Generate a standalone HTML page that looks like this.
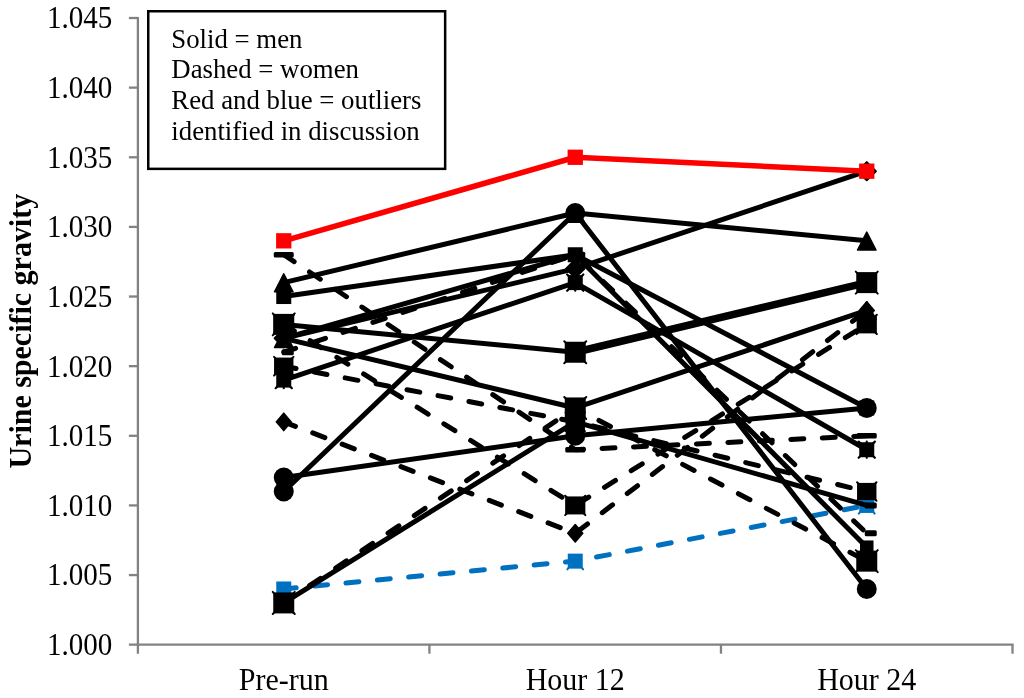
<!DOCTYPE html>
<html lang="en">
<head>
<meta charset="utf-8">
<title>Urine specific gravity</title>
<style>
html,body{margin:0;padding:0;background:#fff;}
body{width:1024px;height:698px;overflow:hidden;}
svg{display:block;}
text{font-family:"Liberation Serif","Times New Roman",serif;fill:#000;}
.ax{font-size:29.07px;}
.xl{font-size:30px;}
.lg{font-size:26.8px;}
.yt{font-size:30px;font-weight:bold;}
</style>
</head>
<body>
<svg width="1024" height="698" viewBox="0 0 1024 698">
<rect x="0" y="0" width="1024" height="698" fill="#fff"/>
<g id="axes">
<path d="M137.9 17.0V653.7" stroke="#828282" stroke-width="2.3" fill="none"/>
<path d="M128.9 644.7H1013.6" stroke="#828282" stroke-width="2.3" fill="none"/>
<path d="M128.9 575.07H137.9" stroke="#828282" stroke-width="2.3" fill="none"/>
<path d="M128.9 505.43H137.9" stroke="#828282" stroke-width="2.3" fill="none"/>
<path d="M128.9 435.80H137.9" stroke="#828282" stroke-width="2.3" fill="none"/>
<path d="M128.9 366.17H137.9" stroke="#828282" stroke-width="2.3" fill="none"/>
<path d="M128.9 296.53H137.9" stroke="#828282" stroke-width="2.3" fill="none"/>
<path d="M128.9 226.90H137.9" stroke="#828282" stroke-width="2.3" fill="none"/>
<path d="M128.9 157.27H137.9" stroke="#828282" stroke-width="2.3" fill="none"/>
<path d="M128.9 87.63H137.9" stroke="#828282" stroke-width="2.3" fill="none"/>
<path d="M128.9 18.00H137.9" stroke="#828282" stroke-width="2.3" fill="none"/>
<path d="M429.43 644.7V653.7" stroke="#828282" stroke-width="2.3" fill="none"/>
<path d="M720.97 644.7V653.7" stroke="#828282" stroke-width="2.3" fill="none"/>
<path d="M1012.50 644.7V653.7" stroke="#828282" stroke-width="2.3" fill="none"/>
</g>
<g id="series">
<path d="M283.75 588.99L575.25 561.14L866.75 505.43" fill="none" stroke="#0070C0" stroke-width="5.0" stroke-linejoin="round" stroke-dasharray="13.0 18.5" stroke-dashoffset="0.5" stroke-linecap="round"/>
<rect x="276.25" y="581.49" width="15" height="15" fill="#0070C0"/><path d="M277.05 595.69L275.85 597.19M290.45 595.69L291.65 597.19" stroke="#0070C0" stroke-width="2" stroke-linecap="round"/>
<rect x="567.75" y="553.64" width="15" height="15" fill="#0070C0"/><path d="M568.55 567.84L567.35 569.34M581.95 567.84L583.15 569.34" stroke="#0070C0" stroke-width="2" stroke-linecap="round"/>
<rect x="859.25" y="497.93" width="15" height="15" fill="#0070C0"/><path d="M860.05 512.13L858.85 513.63M873.45 512.13L874.65 513.63" stroke="#0070C0" stroke-width="2" stroke-linecap="round"/>
<path d="M283.75 421.87L575.25 533.29L866.75 310.46" fill="none" stroke="#000" stroke-width="5.0" stroke-linejoin="round" stroke-dasharray="13.0 18.5" stroke-dashoffset="0.5" stroke-linecap="round"/>
<path d="M283.75 413.12L291.25 421.87L283.75 430.62L276.25 421.87Z" fill="#000" stroke="#000" stroke-width="1.5" stroke-linejoin="round"/>
<path d="M575.25 524.54L582.75 533.29L575.25 542.04L567.75 533.29Z" fill="#000" stroke="#000" stroke-width="1.5" stroke-linejoin="round"/>
<path d="M866.75 301.71L874.25 310.46L866.75 319.21L859.25 310.46Z" fill="#000" stroke="#000" stroke-width="1.5" stroke-linejoin="round"/>
<path d="M283.75 324.39L575.25 505.43L866.75 324.39" fill="none" stroke="#000" stroke-width="5.0" stroke-linejoin="round" stroke-dasharray="13.0 18.5" stroke-dashoffset="0.5" stroke-linecap="round"/>
<rect x="273.65" y="315.39" width="20.20" height="18.00" fill="#000"/><path d="M273.65 314.69L293.85 334.09M273.65 334.09L293.85 314.69" stroke="#000" stroke-width="2" stroke-linecap="round"/>
<rect x="565.15" y="496.43" width="20.20" height="18.00" fill="#000"/><path d="M565.15 495.73L585.35 515.13M565.15 515.13L585.35 495.73" stroke="#000" stroke-width="2" stroke-linecap="round"/>
<rect x="856.65" y="315.39" width="20.20" height="18.00" fill="#000"/><path d="M856.65 314.69L876.85 334.09M856.65 334.09L876.85 314.69" stroke="#000" stroke-width="2" stroke-linecap="round"/>
<path d="M283.75 282.61L575.25 212.97L866.75 240.83" fill="none" stroke="#000" stroke-width="5.0" stroke-linejoin="round"/>
<path d="M283.75 273.86L293.00 291.86L274.50 291.86Z" fill="#000" stroke="#000" stroke-width="1.5" stroke-linejoin="round"/>
<path d="M575.25 204.22L584.50 222.22L566.00 222.22Z" fill="#000" stroke="#000" stroke-width="1.5" stroke-linejoin="round"/>
<path d="M866.75 232.08L876.00 250.08L857.50 250.08Z" fill="#000" stroke="#000" stroke-width="1.5" stroke-linejoin="round"/>
<path d="M283.75 296.53L575.25 254.75L866.75 407.95" fill="none" stroke="#000" stroke-width="5.0" stroke-linejoin="round"/>
<rect x="276.25" y="289.03" width="15" height="15" fill="#000"/>
<rect x="567.75" y="247.25" width="15" height="15" fill="#000"/>
<rect x="859.25" y="400.45" width="15" height="15" fill="#000"/>
<path d="M283.75 338.31L575.25 254.75L866.75 547.21" fill="none" stroke="#000" stroke-width="5.0" stroke-linejoin="round"/>
<rect x="277.00" y="331.56" width="13.5" height="13.5" fill="#000"/>
<rect x="568.50" y="248.00" width="13.5" height="13.5" fill="#000"/>
<rect x="860.00" y="540.46" width="13.5" height="13.5" fill="#000"/>
<path d="M283.75 380.09L575.25 282.61L866.75 449.73" fill="none" stroke="#000" stroke-width="5.0" stroke-linejoin="round"/>
<rect x="276.25" y="372.59" width="15" height="15" fill="#000"/><path d="M275.65 371.99L291.85 388.19M275.65 388.19L291.85 371.99M283.75 371.99L283.75 388.19" stroke="#000" stroke-width="2.2" stroke-linecap="round"/>
<rect x="567.75" y="275.11" width="15" height="15" fill="#000"/><path d="M567.15 274.51L583.35 290.71M567.15 290.71L583.35 274.51M575.25 274.51L575.25 290.71" stroke="#000" stroke-width="2.2" stroke-linecap="round"/>
<rect x="859.25" y="442.23" width="15" height="15" fill="#000"/><path d="M858.65 441.63L874.85 457.83M858.65 457.83L874.85 441.63M866.75 441.63L866.75 457.83" stroke="#000" stroke-width="2.2" stroke-linecap="round"/>
<path d="M283.75 338.31L575.25 407.95L866.75 310.46" fill="none" stroke="#000" stroke-width="5.0" stroke-linejoin="round"/>
<path d="M283.75 329.56L293.00 347.56L274.50 347.56Z" fill="#000" stroke="#000" stroke-width="1.5" stroke-linejoin="round"/>
<path d="M575.25 399.20L584.50 417.20L566.00 417.20Z" fill="#000" stroke="#000" stroke-width="1.5" stroke-linejoin="round"/>
<path d="M866.75 301.71L876.00 319.71L857.50 319.71Z" fill="#000" stroke="#000" stroke-width="1.5" stroke-linejoin="round"/>
<path d="M283.75 491.51L575.25 212.97L866.75 588.99" fill="none" stroke="#000" stroke-width="5.0" stroke-linejoin="round"/>
<circle cx="283.75" cy="491.51" r="10.0" fill="#000"/>
<circle cx="575.25" cy="212.97" r="10.0" fill="#000"/>
<circle cx="866.75" cy="588.99" r="10.0" fill="#000"/>
<path d="M283.75 477.58L575.25 435.80L866.75 407.95" fill="none" stroke="#000" stroke-width="5.0" stroke-linejoin="round"/>
<circle cx="283.75" cy="477.58" r="10.0" fill="#000"/>
<circle cx="575.25" cy="435.80" r="10.0" fill="#000"/>
<circle cx="866.75" cy="407.95" r="10.0" fill="#000"/>
<path d="M283.75 338.31L575.25 268.68L866.75 171.19" fill="none" stroke="#000" stroke-width="5.0" stroke-linejoin="round"/>
<path d="M283.75 329.21L292.85 338.31L283.75 347.41L274.65 338.31Z" fill="#000" stroke="#000" stroke-width="2" stroke-linejoin="round"/>
<path d="M575.25 259.58L584.35 268.68L575.25 277.78L566.15 268.68Z" fill="#000" stroke="#000" stroke-width="2" stroke-linejoin="round"/>
<path d="M866.75 162.09L875.85 171.19L866.75 180.29L857.65 171.19Z" fill="#000" stroke="#000" stroke-width="2" stroke-linejoin="round"/>
<path d="M283.75 602.92L575.25 421.87L866.75 505.43" fill="none" stroke="#000" stroke-width="5.0" stroke-linejoin="round"/>
<rect x="281.75" y="599.92" width="12.0" height="6" rx="1.5" fill="#000"/>
<rect x="573.25" y="418.87" width="12.0" height="6" rx="1.5" fill="#000"/>
<rect x="864.75" y="502.43" width="12.0" height="6" rx="1.5" fill="#000"/>
<path d="M283.75 254.75L575.25 449.73L866.75 435.80" fill="none" stroke="#000" stroke-width="5.0" stroke-linejoin="round" stroke-dasharray="13.0 18.5" stroke-dashoffset="0.5" stroke-linecap="round"/>
<rect x="273.75" y="252.00" width="20" height="5.5" rx="1.5" fill="#000"/>
<rect x="565.25" y="446.98" width="20" height="5.5" rx="1.5" fill="#000"/>
<rect x="856.75" y="433.05" width="20" height="5.5" rx="1.5" fill="#000"/>
<path d="M283.75 352.24L575.25 254.75L866.75 533.29" fill="none" stroke="#000" stroke-width="5.0" stroke-linejoin="round" stroke-dasharray="13.0 18.5" stroke-dashoffset="0.5" stroke-linecap="round"/>
<rect x="281.75" y="349.24" width="12.0" height="6" rx="1.5" fill="#000"/>
<rect x="573.25" y="251.75" width="12.0" height="6" rx="1.5" fill="#000"/>
<rect x="864.75" y="530.29" width="12.0" height="6" rx="1.5" fill="#000"/>
<path d="M283.75 366.17L575.25 421.87L866.75 491.51" fill="none" stroke="#000" stroke-width="5.0" stroke-linejoin="round" stroke-dasharray="13.0 18.5" stroke-dashoffset="0.5" stroke-linecap="round"/>
<rect x="274.05" y="357.57" width="19.40" height="17.20" fill="#000"/><path d="M274.05 356.87L293.45 375.47M274.05 375.47L293.45 356.87" stroke="#000" stroke-width="2" stroke-linecap="round"/>
<rect x="565.55" y="413.27" width="19.40" height="17.20" fill="#000"/><path d="M565.55 412.57L584.95 431.17M565.55 431.17L584.95 412.57" stroke="#000" stroke-width="2" stroke-linecap="round"/>
<rect x="857.05" y="482.91" width="19.40" height="17.20" fill="#000"/><path d="M857.05 482.21L876.45 500.81M857.05 500.81L876.45 482.21" stroke="#000" stroke-width="2" stroke-linecap="round"/>
<path d="M283.75 324.39L575.25 352.24" fill="none" stroke="#000" stroke-width="5.0"/>
<path d="M575.25 352.24L866.75 282.61" fill="none" stroke="#000" stroke-width="7.5"/>
<rect x="273.25" y="313.89" width="21" height="21" fill="#000"/><path d="M272.75 313.39L294.75 335.39M272.75 335.39L294.75 313.39" stroke="#000" stroke-width="2" stroke-linecap="round"/>
<rect x="564.75" y="341.74" width="21" height="21" fill="#000"/><path d="M564.25 341.24L586.25 363.24M564.25 363.24L586.25 341.24" stroke="#000" stroke-width="2" stroke-linecap="round"/>
<rect x="856.25" y="272.11" width="21" height="21" fill="#000"/><path d="M855.75 271.61L877.75 293.61M855.75 293.61L877.75 271.61" stroke="#000" stroke-width="2" stroke-linecap="round"/>
<path d="M283.75 602.92L575.25 407.95L866.75 561.14" fill="none" stroke="#000" stroke-width="5.0" stroke-linejoin="round" stroke-dasharray="13.0 18.5" stroke-dashoffset="0.5" stroke-linecap="round"/>
<rect x="273.25" y="592.42" width="21" height="21" fill="#000"/><path d="M272.75 591.92L294.75 613.92M272.75 613.92L294.75 591.92" stroke="#000" stroke-width="2" stroke-linecap="round"/>
<rect x="564.75" y="397.45" width="21" height="21" fill="#000"/><path d="M564.25 396.95L586.25 418.95M564.25 418.95L586.25 396.95" stroke="#000" stroke-width="2" stroke-linecap="round"/>
<rect x="856.25" y="550.64" width="21" height="21" fill="#000"/><path d="M855.75 550.14L877.75 572.14M855.75 572.14L877.75 550.14" stroke="#000" stroke-width="2" stroke-linecap="round"/>
<path d="M283.75 240.83L575.25 157.27L866.75 171.19" fill="none" stroke="#FF0000" stroke-width="5.6" stroke-linejoin="round"/>
<rect x="276.10" y="233.18" width="15.3" height="15.3" fill="#FF0000"/>
<rect x="567.60" y="149.62" width="15.3" height="15.3" fill="#FF0000"/>
<rect x="859.10" y="163.54" width="15.3" height="15.3" fill="#FF0000"/>
</g>
<g id="legend">
<rect x="148.25" y="11.25" width="296.9" height="157.6" fill="#fff" stroke="#000" stroke-width="2.5"/>
<text transform="translate(171.30,47.50) scale(1.0,1.03)" text-anchor="start" class="lg">Solid = men</text>
<text transform="translate(171.30,78.20) scale(1.0,1.03)" text-anchor="start" class="lg">Dashed = women</text>
<text transform="translate(171.30,108.70) scale(1.0,1.03)" text-anchor="start" class="lg">Red and blue = outliers</text>
<text transform="translate(171.30,139.50) scale(1.0,1.03)" text-anchor="start" class="lg">identified in discussion</text>
</g>
<g id="labels">
<text transform="translate(112.30,655.10) scale(1.0,1.115)" text-anchor="end" class="ax">1.000</text>
<text transform="translate(112.30,585.47) scale(1.0,1.115)" text-anchor="end" class="ax">1.005</text>
<text transform="translate(112.30,515.83) scale(1.0,1.115)" text-anchor="end" class="ax">1.010</text>
<text transform="translate(112.30,446.20) scale(1.0,1.115)" text-anchor="end" class="ax">1.015</text>
<text transform="translate(112.30,376.57) scale(1.0,1.115)" text-anchor="end" class="ax">1.020</text>
<text transform="translate(112.30,306.93) scale(1.0,1.115)" text-anchor="end" class="ax">1.025</text>
<text transform="translate(112.30,237.30) scale(1.0,1.115)" text-anchor="end" class="ax">1.030</text>
<text transform="translate(112.30,167.67) scale(1.0,1.115)" text-anchor="end" class="ax">1.035</text>
<text transform="translate(112.30,98.03) scale(1.0,1.115)" text-anchor="end" class="ax">1.040</text>
<text transform="translate(112.30,28.40) scale(1.0,1.115)" text-anchor="end" class="ax">1.045</text>
<text transform="translate(283.75,690.40) scale(1.0,1.03)" text-anchor="middle" class="xl">Pre-run</text>
<text transform="translate(575.25,690.40) scale(1.0,1.03)" text-anchor="middle" class="xl">Hour 12</text>
<text transform="translate(866.75,690.40) scale(1.0,1.03)" text-anchor="middle" class="xl">Hour 24</text>
<text transform="translate(31.00,331.20) rotate(-90) scale(1.0,1.07)" text-anchor="middle" class="yt">Urine specific gravity</text>
</g>
</svg>
</body>
</html>
